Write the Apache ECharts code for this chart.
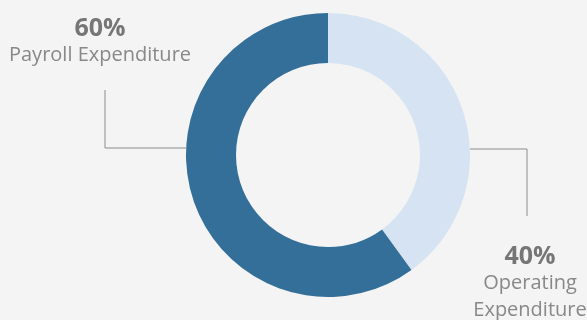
<!DOCTYPE html>
<html>
<head>
<meta charset="utf-8">
<script src="https://cdn.jsdelivr.net/npm/echarts@6/dist/echarts.min.js"></script>
<style>
html,body{margin:0;padding:0;background:#f4f4f4;}
#c{width:587px;height:320px;}
</style>
</head>
<body>
<div id="c"></div>
<script>
var categories = ['Operating Expenditure', 'Payroll Expenditure'];
var labelTexts = ['Operating\nExpenditure', 'Payroll Expenditure'];
var values = [40, 60];
var colors = ['#d5e3f2', '#346f9a'];

var CX = 328, CY = 155, R_IN = 92, R_OUT = 142;

var chart = echarts.init(document.getElementById('c'), null, {renderer: 'canvas'});
chart.setOption({
  backgroundColor: '#f4f4f4',
  animation: false,
  series: [{
    type: 'pie',
    center: [CX, CY],
    radius: [R_IN, R_OUT],
    startAngle: 90,
    clockwise: true,
    avoidLabelOverlap: false,
    emphasis: {disabled: true},
    data: categories.map(function (c, i) {
      return {name: c, value: values[i], itemStyle: {color: colors[i]}};
    }),
    label: {
      show: true,
      formatter: function (p) {
        return '{p|' + Math.round(p.percent) + '%}\n{n|' + labelTexts[p.dataIndex] + '}';
      },
      rich: {
        p: {fontFamily: 'Open Sans', fontWeight: 'bold', fontSize: 25, color: '#767676', lineHeight: 27, align: 'center'},
        n: {fontFamily: 'Open Sans', fontSize: 20, color: '#888888', lineHeight: 27, align: 'center'}
      }
    },
    labelLine: {show: true, lineStyle: {color: '#8c8c8c', width: 1}},
    labelLayout: function (p) {
      if (p.dataIndex === 1) {
        return {
          x: 100, y: 15, align: 'center', verticalAlign: 'top',
          labelLinePoints: [[CX - R_OUT, CY - 7], [105, CY - 7], [105, 90]]
        };
      }
      return {
        x: 530, y: 243, align: 'center', verticalAlign: 'top',
        labelLinePoints: [[CX + R_OUT, CY - 6], [527, CY - 6], [527, 216]]
      };
    }
  }]
});
</script>
</body>
</html>
